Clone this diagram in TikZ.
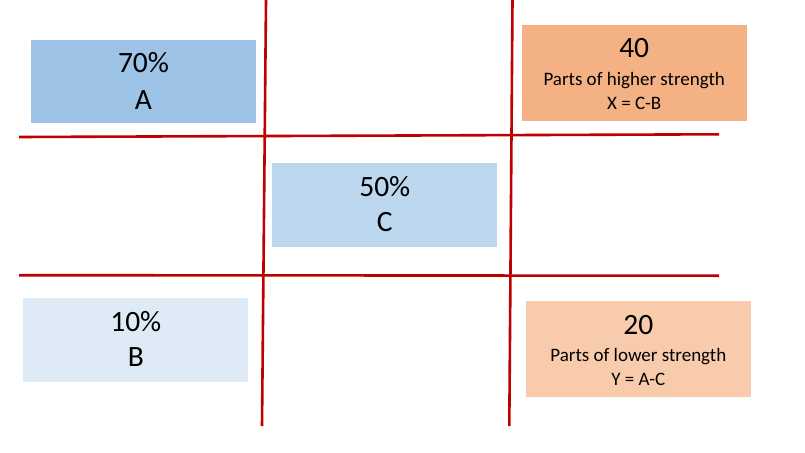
\documentclass[tikz,border=0pt]{standalone}
\usepackage{fontspec}
\setmainfont{Carlito}
\definecolor{boxA}{HTML}{9DC3E6}
\definecolor{boxC}{HTML}{BDD7EE}
\definecolor{boxB}{HTML}{DEEBF7}
\definecolor{boxX}{HTML}{F4B183}
\definecolor{boxY}{HTML}{F8CBAD}
\definecolor{gridred}{HTML}{C00000}
\begin{document}
\begin{tikzpicture}[x=1pt,y=-1pt,
  bigtxt/.style={anchor=base,inner sep=0pt,font=\fontsize{29.5}{35}\selectfont},
  smalltxt/.style={anchor=base,inner sep=0pt,font=\fontsize{19}{22}\selectfont},
  gridline/.style={draw=gridred,line width=2.6pt}]
\useasboundingbox (0,0) rectangle (805,452);
% boxes
\fill[boxA] (31,40) rectangle (256,123.3);
\fill[boxX] (521.7,25) rectangle (746.7,120.7);
\fill[boxC] (272.3,163.3) rectangle (497.3,246.7);
\fill[boxB] (23.3,298.3) rectangle (248.3,381.7);
\fill[boxY] (526,301) rectangle (750.7,396.7);
% grid lines
\coordinate (v1t) at (266,0);   \coordinate (v1b) at (262,426);
\coordinate (v2t) at (512.5,0); \coordinate (v2b) at (509.3,426);
\coordinate (h1l) at (19,137);  \coordinate (h1r) at (719,134.3);
\coordinate (h2l) at (19,275.2);\coordinate (h2r) at (719,275.7);
\draw[gridline] (h1l) -- (h1r);
\draw[gridline] (h2l) -- (h2r);
\draw[gridline] (v1t) -- (v1b);
\draw[gridline] (v2t) -- (v2b);
% texts
\node[bigtxt] (Ap) at (143.5,73) {70\%};
\node[bigtxt] (Al) at (143.5,109.3) {A};
\node[bigtxt] (Xn) at (634.2,57.3) {40};
\node[smalltxt] (Xt) at (634.2,85) {Parts of higher strength};
\node[smalltxt] (Xf) at (634.2,109) {X = C-B};
\node[bigtxt] (Cp) at (384.8,196) {50\%};
\node[bigtxt] (Cl) at (384.8,231.7) {C};
\node[bigtxt] (Bp) at (135.8,331.7) {10\%};
\node[bigtxt] (Bl) at (135.8,366.7) {B};
\node[bigtxt] (Yn) at (638.3,334) {20};
\node[smalltxt] (Yt) at (638.3,361) {Parts of lower strength};
\node[smalltxt] (Yf) at (638.3,385) {Y = A-C};
\end{tikzpicture}
\end{document}
